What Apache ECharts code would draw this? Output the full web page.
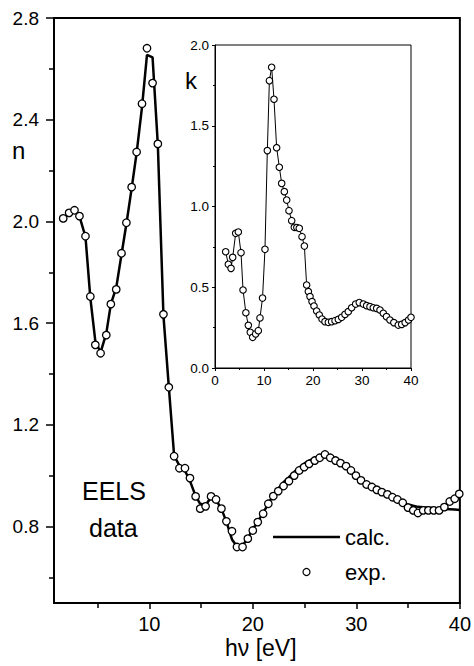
<!DOCTYPE html>
<html>
<head>
<meta charset="utf-8">
<script src="https://cdn.jsdelivr.net/npm/echarts@6/dist/echarts.min.js"></script>
<style>
html,body{margin:0;padding:0;background:#fff;}
#chart{width:474px;height:666px;}
</style>
</head>
<body>
<div id="chart"></div>
<script>
// ---- main plot: refractive index n (EELS data) ----
var expE = [1.69,2.26,2.78,3.26,3.84,4.31,4.79,5.30,5.85,6.29,6.81,7.32,7.79,8.30,8.78,9.30,9.78,10.32,10.83,11.37,11.89,12.40,12.91,13.45,13.93,14.48,14.92,15.44,15.97,16.45,16.97,17.45,17.99,18.47,19.01,19.52,20.00,20.48,21.00,21.50,21.98,22.46,22.97,23.49,24.00,24.48,24.96,25.44,25.98,26.46,26.97,27.48,27.99,28.47,29.01,29.48,29.96,30.45,30.99,31.50,31.98,32.46,33.00,33.49,33.97,34.48,34.99,35.50,35.95,36.46,36.96,37.48,37.99,38.50,39.02,39.50,39.94];
var expN = [2.012,2.034,2.044,2.021,1.942,1.705,1.515,1.482,1.553,1.675,1.733,1.875,1.995,2.135,2.273,2.463,2.681,2.544,2.305,1.635,1.348,1.077,1.030,1.030,0.991,0.919,0.871,0.880,0.919,0.907,0.871,0.821,0.782,0.720,0.720,0.753,0.785,0.818,0.851,0.890,0.920,0.940,0.960,0.979,1.001,1.021,1.034,1.047,1.060,1.071,1.084,1.071,1.060,1.050,1.038,1.021,1.001,0.982,0.966,0.956,0.945,0.936,0.927,0.916,0.907,0.894,0.875,0.864,0.854,0.864,0.864,0.864,0.864,0.877,0.899,0.910,0.929];
var calcE = [1.69,2.26,2.78,3.26,3.84,4.31,4.79,5.30,5.85,6.29,6.81,7.32,7.79,8.30,8.78,9.30,9.78,10.32,10.83,11.37,11.89,12.40,12.91,13.45,13.93,14.48,14.92,15.44,15.97,16.45,16.97,17.45,17.99,18.47,19.01,19.52,20.00,20.48,21.00,21.50,21.98,22.46,22.97,23.49,24.00,24.48,24.96,25.44,25.98,26.46,26.97,27.48,27.99,28.47,29.01,29.48,29.96,30.45,30.99,31.50,31.98,32.46,33.00,33.49,33.97,34.48,34.99,35.50,35.95,36.46,36.96,37.48,37.99,38.50,39.02,39.50,40.00];
var calcN = [2.012,2.030,2.045,2.020,1.940,1.700,1.530,1.485,1.560,1.675,1.740,1.870,1.990,2.130,2.270,2.450,2.655,2.645,2.300,1.630,1.350,1.080,1.040,1.020,0.980,0.920,0.890,0.885,0.915,0.905,0.870,0.820,0.750,0.722,0.725,0.755,0.790,0.820,0.855,0.890,0.925,0.950,0.975,0.995,1.015,1.033,1.048,1.060,1.070,1.077,1.080,1.070,1.058,1.047,1.035,1.020,1.000,0.985,0.968,0.957,0.946,0.936,0.927,0.917,0.908,0.897,0.887,0.882,0.878,0.876,0.875,0.874,0.872,0.870,0.869,0.868,0.866];
var mainYLabels = [0.8,1.2,1.6,2.0,2.4,2.8];
var mainYMinor = [0.6,1.0,1.4,1.8,2.2,2.6];
var mainXLabels = [10,20,30,40];
var mainXMinor = [5,15,25,35];

// ---- inset: extinction coefficient k ----
var insetE = [2.18,2.72,3.27,3.61,4.22,4.76,5.31,5.72,6.30,6.80,7.20,7.69,8.30,8.84,9.18,9.70,10.20,10.68,11.10,11.56,12.04,12.58,13.13,13.61,14.15,14.63,15.10,15.65,16.19,16.70,17.20,17.76,18.24,18.70,19.05,19.39,19.80,20.20,20.75,21.29,21.84,22.45,23.13,23.80,24.50,25.17,25.85,26.53,27.20,27.89,28.70,29.44,30.27,30.95,31.63,32.30,33.00,33.67,34.35,35.00,35.70,36.50,37.40,38.10,38.80,39.50,40.00];
var insetK = [0.720,0.642,0.617,0.685,0.834,0.842,0.714,0.483,0.342,0.264,0.221,0.190,0.211,0.231,0.310,0.433,0.735,1.346,1.779,1.862,1.664,1.364,1.243,1.143,1.092,1.040,0.974,0.912,0.871,0.870,0.865,0.813,0.755,0.514,0.473,0.442,0.411,0.384,0.353,0.328,0.303,0.287,0.283,0.287,0.293,0.301,0.314,0.332,0.349,0.373,0.396,0.405,0.396,0.386,0.380,0.373,0.369,0.359,0.339,0.318,0.297,0.281,0.266,0.270,0.281,0.297,0.314];

function zip(a,b){var r=[];for(var i=0;i<a.length;i++){r.push([a[i],b[i]]);}return r;}

var FONT = '"Liberation Sans", Arial, sans-serif';
var chart = echarts.init(document.getElementById('chart'), null, {renderer:'svg'});

var option = {
  backgroundColor:'#fff',
  animation:false,
  grid:[
    {left:54, top:18, right:11, bottom:63, show:true, borderColor:'#000', borderWidth:2, backgroundColor:'transparent'},
    {left:215, top:45, width:196, height:323, show:true, borderColor:'#000', borderWidth:1, backgroundColor:'#fff', z:3}
  ],
  xAxis:[
    {gridIndex:0, type:'value', position:'bottom', min:0.8, max:40,
     axisLine:{lineStyle:{color:'#000', width:2}},
     axisTick:{customValues:mainXLabels, length:6, lineStyle:{color:'#000', width:1.5}},
     axisLabel:{customValues:mainXLabels, color:'#000', fontSize:20, fontFamily:FONT, margin:11},
     splitLine:{show:false}},
    {gridIndex:0, type:'value', position:'bottom', min:0.8, max:40,
     axisLine:{show:false},
     axisTick:{customValues:mainXMinor, length:5, lineStyle:{color:'#000', width:1.5}},
     axisLabel:{show:false}, splitLine:{show:false}},
    {gridIndex:1, type:'value', position:'bottom', min:0, max:40, interval:10,
     axisLine:{lineStyle:{color:'#000', width:1}},
     axisTick:{length:3, lineStyle:{color:'#000'}},
     minorTick:{show:true, splitNumber:2, length:2, lineStyle:{color:'#000'}},
     axisLabel:{color:'#000', fontSize:13.5, fontFamily:FONT, margin:5},
     splitLine:{show:false}, z:4}
  ],
  yAxis:[
    {gridIndex:0, type:'value', position:'left', min:0.5, max:2.8,
     axisLine:{lineStyle:{color:'#000', width:2}},
     axisTick:{customValues:mainYLabels, length:8, lineStyle:{color:'#000', width:1.5}},
     axisLabel:{customValues:mainYLabels, color:'#000', fontSize:19, fontFamily:FONT, margin:15,
       formatter:function(v){return v.toFixed(1);}},
     splitLine:{show:false}},
    {gridIndex:0, type:'value', position:'left', min:0.5, max:2.8,
     axisLine:{show:false},
     axisTick:{customValues:mainYMinor, length:5, lineStyle:{color:'#000', width:1.5}},
     axisLabel:{show:false}, splitLine:{show:false}},
    {gridIndex:1, type:'value', position:'left', min:0, max:2, interval:0.5,
     axisLine:{lineStyle:{color:'#000', width:1}},
     axisTick:{length:3, lineStyle:{color:'#000'}},
     minorTick:{show:true, splitNumber:2, length:2, lineStyle:{color:'#000'}},
     axisLabel:{color:'#000', fontSize:13.5, fontFamily:FONT, margin:6,
       formatter:function(v){return v.toFixed(1);}},
     splitLine:{show:false}, z:4}
  ],
  legend:{
    data:[
      {name:'calc.', icon:'path://M0,0 L67,0 L67,2.5 L0,2.5 Z', itemStyle:{color:'#000', borderWidth:0}},
      {name:'exp.', icon:'circle', itemStyle:{color:'#fff', borderColor:'#000', borderWidth:1.2}}
    ],
    orient:'vertical', left:273, top:525, padding:0,
    itemWidth:67, itemHeight:7, itemGap:11, selectedMode:false,
    textStyle:{color:'#000', fontSize:22, fontFamily:FONT, lineHeight:24}
  },
  series:[
    {name:'calc.', type:'line', xAxisIndex:0, yAxisIndex:0, data:zip(calcE,calcN),
     showSymbol:false, symbol:'none', lineStyle:{color:'#000', width:2.5}, itemStyle:{color:'#000'}, z:2},
    {name:'exp.', type:'scatter', xAxisIndex:0, yAxisIndex:0, data:zip(expE,expN),
     symbol:'circle', symbolSize:7.5, itemStyle:{color:'#fff', borderColor:'#000', borderWidth:1.3, opacity:1}, z:3},
    {name:'k', type:'line', xAxisIndex:2, yAxisIndex:2, data:zip(insetE,insetK),
     symbol:'circle', symbolSize:6.5, showSymbol:true,
     lineStyle:{color:'#000', width:1}, itemStyle:{color:'#fff', borderColor:'#000', borderWidth:1.1}, z:5}
  ],
  graphic:[
    {type:'text', left:12, top:138, style:{text:'n', font:'24px '+FONT, fill:'#000'}},
    {type:'text', left:185, top:68, z:10, style:{text:'k', font:'24px '+FONT, fill:'#000'}},
    {type:'text', left:82, top:478, style:{text:'EELS', font:'25px '+FONT, fill:'#000'}},
    {type:'text', left:89, top:515, style:{text:'data', font:'25px '+FONT, fill:'#000'}},
    {type:'text', left:225, top:636, style:{text:'h\u03bd [eV]', font:'23px '+FONT, fill:'#000'}}
  ]
};
chart.setOption(option);
</script>
</body>
</html>
